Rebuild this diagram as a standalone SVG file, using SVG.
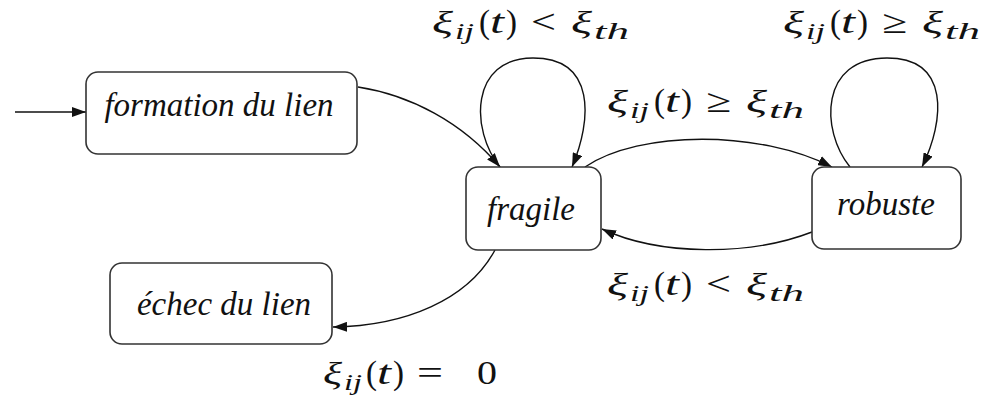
<svg xmlns="http://www.w3.org/2000/svg" width="989" height="398" viewBox="0 0 989 398">
<style>
.box{fill:#fff;stroke:#333;stroke-width:1.6}
.lbl{font-family:"Liberation Serif","DejaVu Serif",serif;font-style:italic;font-size:33px;fill:#111;text-anchor:middle}
.edge{fill:none;stroke:#111;stroke-width:1.4;marker-end:url(#ah)}
.m{font-family:"Liberation Serif","DejaVu Serif",serif;font-size:33px;fill:#111}
.x{font-style:italic;font-size:32px}
.mi{font-style:italic}
.sub{font-style:italic;font-size:24px}
</style>
<defs>
<marker id="ah" viewBox="0 0 14 10" refX="14" refY="5" markerWidth="14" markerHeight="10" markerUnits="userSpaceOnUse" orient="auto">
<path d="M0,0 L14,5 L0,10 z" fill="#111"/>
</marker>
</defs>
<g id="connectors">
<path class="edge" d="M15,112 L86,112"/>
<path class="edge" d="M358,87 C410,95 462,122 500,167"/>
<path class="edge" d="M500,167 C470,130 470,58 533,58 C596,58 592,120 572,167"/>
<path class="edge" d="M585,167 C640,130 760,130 832,167"/>
<path class="edge" d="M850,167 C820,130 820,58 887,58 C950,58 945,120 922,167"/>
<path class="edge" d="M812,232 C750,256 660,256 602,229"/>
<path class="edge" d="M495,250 C468,300 405,326 333,327"/>
</g>
<g id="node-formation">
<rect class="box" x="86" y="72" width="271" height="82" rx="12"/>
<text class="lbl" x="219" y="116">formation du lien</text>
</g>
<g id="node-fragile">
<rect class="box" x="466" y="167" width="135" height="83" rx="12"/>
<text class="lbl" x="531" y="220">fragile</text>
</g>
<g id="node-robuste">
<rect class="box" x="812" y="167" width="149" height="82" rx="12"/>
<text class="lbl" x="886" y="215">robuste</text>
</g>
<g id="node-echec">
<rect class="box" x="110" y="263" width="222" height="81" rx="12"/>
<text class="lbl" x="224" y="315">échec du lien</text>
</g>
<g id="labels">
<text class="m"><tspan class="x" x="432" y="33" textLength="21" lengthAdjust="spacingAndGlyphs">ξ</tspan><tspan class="sub" x="455" y="39" textLength="19" lengthAdjust="spacingAndGlyphs">ij</tspan><tspan x="479" y="33">(</tspan><tspan class="mi" x="490" y="33" textLength="14" lengthAdjust="spacingAndGlyphs">t</tspan><tspan x="506" y="33">)</tspan><tspan x="531" y="33" textLength="25" lengthAdjust="spacingAndGlyphs">&lt;</tspan><tspan class="x" x="571" y="33" textLength="21" lengthAdjust="spacingAndGlyphs">ξ</tspan><tspan class="sub" x="594" y="39" textLength="35" lengthAdjust="spacingAndGlyphs">th</tspan></text>
<text class="m"><tspan class="x" x="783" y="33" textLength="21" lengthAdjust="spacingAndGlyphs">ξ</tspan><tspan class="sub" x="806" y="39" textLength="19" lengthAdjust="spacingAndGlyphs">ij</tspan><tspan x="830" y="33">(</tspan><tspan class="mi" x="841" y="33" textLength="14" lengthAdjust="spacingAndGlyphs">t</tspan><tspan x="857" y="33">)</tspan><tspan x="882" y="33" textLength="25" lengthAdjust="spacingAndGlyphs">≥</tspan><tspan class="x" x="922" y="33" textLength="21" lengthAdjust="spacingAndGlyphs">ξ</tspan><tspan class="sub" x="945" y="39" textLength="35" lengthAdjust="spacingAndGlyphs">th</tspan></text>
<text class="m"><tspan class="x" x="607" y="112" textLength="21" lengthAdjust="spacingAndGlyphs">ξ</tspan><tspan class="sub" x="630" y="118" textLength="19" lengthAdjust="spacingAndGlyphs">ij</tspan><tspan x="654" y="112">(</tspan><tspan class="mi" x="665" y="112" textLength="14" lengthAdjust="spacingAndGlyphs">t</tspan><tspan x="681" y="112">)</tspan><tspan x="706" y="112" textLength="25" lengthAdjust="spacingAndGlyphs">≥</tspan><tspan class="x" x="746" y="112" textLength="21" lengthAdjust="spacingAndGlyphs">ξ</tspan><tspan class="sub" x="769" y="118" textLength="35" lengthAdjust="spacingAndGlyphs">th</tspan></text>
<text class="m"><tspan class="x" x="607" y="295" textLength="21" lengthAdjust="spacingAndGlyphs">ξ</tspan><tspan class="sub" x="630" y="301" textLength="19" lengthAdjust="spacingAndGlyphs">ij</tspan><tspan x="654" y="295">(</tspan><tspan class="mi" x="665" y="295" textLength="14" lengthAdjust="spacingAndGlyphs">t</tspan><tspan x="681" y="295">)</tspan><tspan x="706" y="295" textLength="25" lengthAdjust="spacingAndGlyphs">&lt;</tspan><tspan class="x" x="746" y="295" textLength="21" lengthAdjust="spacingAndGlyphs">ξ</tspan><tspan class="sub" x="769" y="301" textLength="35" lengthAdjust="spacingAndGlyphs">th</tspan></text>
<text class="m"><tspan class="x" x="323" y="384" textLength="19" lengthAdjust="spacingAndGlyphs">ξ</tspan><tspan class="sub" x="344" y="390" textLength="18" lengthAdjust="spacingAndGlyphs">ij</tspan><tspan x="366" y="384">(</tspan><tspan class="mi" x="377" y="384" textLength="14" lengthAdjust="spacingAndGlyphs">t</tspan><tspan x="393" y="384">)</tspan><tspan x="417" y="384" textLength="26" lengthAdjust="spacingAndGlyphs">=</tspan><tspan x="477" y="384" textLength="20" lengthAdjust="spacingAndGlyphs">0</tspan></text>
</g>
</svg>
